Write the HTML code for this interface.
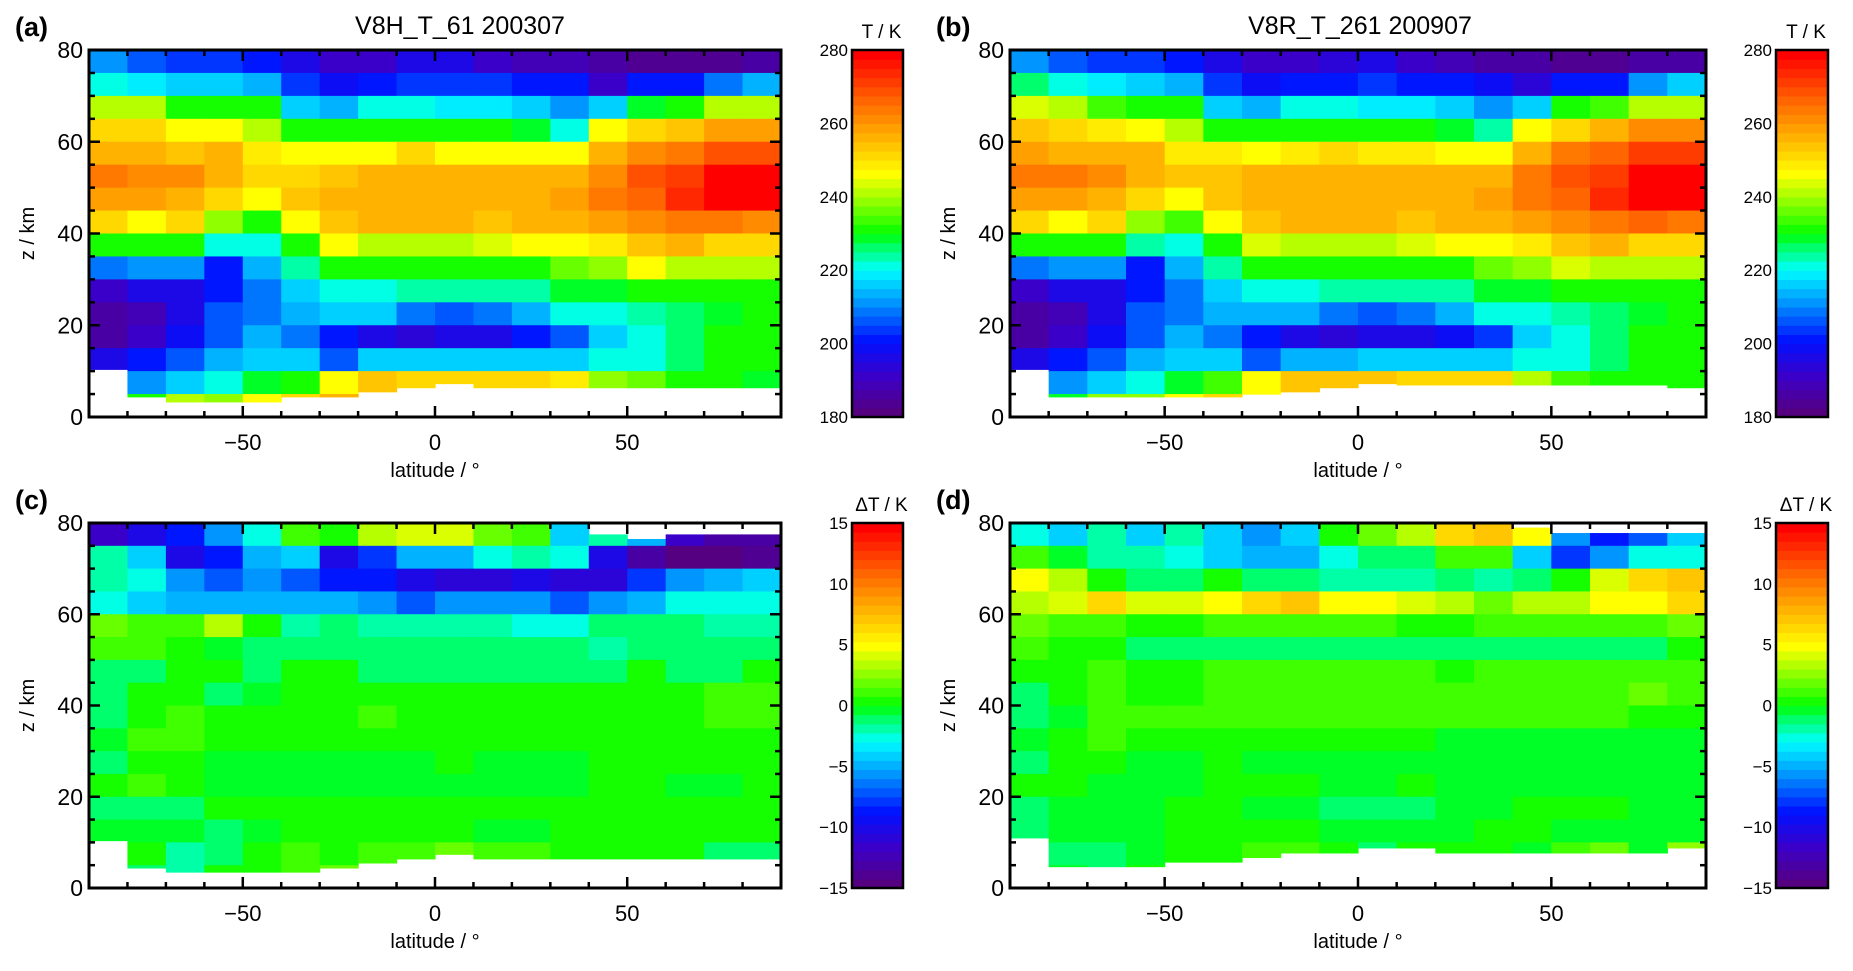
<!DOCTYPE html>
<html><head><meta charset="utf-8"><style>
html,body{margin:0;padding:0;background:#fff;}
svg{display:block;font-family:"Liberation Sans",sans-serif;}
</style></head><body>
<svg id="fig" width="1853" height="971" viewBox="0 0 1853 971"></svg>
<script>
// ---- data ----
const latitudes = [-85,-75,-65,-55,-45,-35,-25,-15,-5,5,15,25,35,45,55,65,75,85];
const altitudes = [77.5,72.5,67.5,62.5,57.5,52.5,47.5,42.5,37.5,32.5,27.5,22.5,17.5,12.5,7.5,2.5];
const xTicks = [-50,0,50];
const yTicks = [0,20,40,60,80];
const tempTicks = [180,200,220,240,260,280];
const diffTicks = [-15,-10,-5,0,5,10,15];

const tempA = [
[210,207,203,203,200,196,190,190,195,196,192,188,188,185,184,184,184,186],
[222,218,217,216,214,203,198,200,203,204,203,200,200,192,200,200,208,214],
[242,240,232,230,230,215,213,220,220,218,218,216,210,215,228,232,240,240],
[252,250,247,247,240,230,230,230,230,230,230,228,222,245,250,254,258,258],
[257,256,254,256,248,247,246,247,250,247,247,246,245,255,262,264,268,268],
[264,262,262,256,252,252,254,256,256,256,256,256,257,262,268,270,278,278],
[258,258,257,250,246,254,256,257,257,257,257,257,258,263,266,274,278,278],
[250,247,250,238,232,247,253,255,256,255,254,256,257,258,260,264,264,262],
[232,232,232,222,222,232,245,242,240,240,244,245,247,248,253,256,252,252],
[208,212,210,201,214,224,230,230,230,230,230,232,236,238,245,242,240,240],
[192,195,197,201,209,216,222,222,224,224,224,224,228,228,232,232,230,232],
[185,188,195,205,209,214,215,215,208,207,208,214,222,222,224,226,229,230],
[186,192,198,207,214,208,200,196,194,196,197,200,205,216,222,225,230,230],
[196,200,206,213,215,216,205,215,215,216,216,215,216,222,222,225,230,230],
[null,212,215,222,228,232,245,254,252,252,252,252,248,238,236,230,230,228],
[null,230,240,238,245,250,256,null,null,null,null,null,null,null,null,null,null,null]];
const bottomA = [10.4,4.4,3.3,3.3,3.3,4.4,4.4,5.5,6.4,7.3,6.4,6.4,6.4,6.4,6.4,6.4,6.4,6.4];
const topA = [80,80,80,80,80,80,80,80,80,80,80,80,80,80,80,80,80,80];

const tempB = [
[212,207,204,203,200,195,190,190,194,195,192,188,187,185,184,184,185,187],
[225,220,218,216,213,203,198,200,202,203,202,200,199,193,200,202,210,216],
[244,241,234,231,230,216,214,220,220,219,218,216,211,217,230,234,242,242],
[253,251,248,247,241,232,231,231,231,230,230,229,224,246,252,256,260,260],
[258,257,255,256,249,248,247,248,250,248,248,247,246,256,263,266,270,270],
[264,263,262,257,253,253,255,256,256,256,256,256,257,263,268,272,278,278],
[258,258,257,251,247,254,256,257,257,257,257,257,258,263,267,274,278,278],
[250,247,250,239,233,247,253,255,256,255,254,256,257,258,260,264,265,263],
[232,232,232,223,222,232,244,242,240,240,244,245,247,248,253,256,252,252],
[208,212,210,202,214,224,230,230,230,230,230,232,236,238,244,242,240,240],
[192,195,197,202,209,216,222,222,224,224,224,224,228,228,232,232,230,232],
[185,188,195,205,209,214,214,214,208,207,208,214,222,222,224,226,229,230],
[186,192,198,206,213,208,200,196,194,195,196,199,204,216,222,225,230,230],
[196,200,206,213,215,216,205,214,214,215,215,215,216,222,222,225,230,230],
[null,212,215,222,228,234,246,254,254,254,252,252,250,240,234,230,230,230],
[null,228,238,238,245,250,null,null,null,null,null,null,null,null,null,null,null,null]];
const bottomB = [10.4,4.4,4.4,4.4,4.4,4.4,5,5.5,6.4,7.3,7,7,7,7,7,7,7,6.4];
const topB = [80,80,80,80,80,80,80,80,80,80,80,80,80,80,80,80,80,80];

const diffC = [
[-12,-10,-9,-6,-3,1,0,3,4,4,2,1,-4,-2,-5,-12,-13,-13],
[-2,-4,-10,-9,-5,-4,-10,-8,-5,-5,-3,-2,-3,-10,-13,-15,-15,-14],
[-2,-3,-6,-7,-6,-7,-9,-9,-10,-11,-11,-10,-11,-11,-8,-6,-5,-4],
[-3,-4,-5,-5,-5,-5,-5,-6,-7,-6,-6,-6,-7,-6,-5,-3,-3,-3],
[2,1,1,3,0,-2,-1,-2,-2,-2,-2,-3,-3,-1,-1,-1,-2,-2],
[1,1,0,-0.5,-1,-1,-1,-1,-1,-1,-1.5,-1.5,-1.5,-2,-1.5,-1.5,-1.5,-1],
[-1.5,-1.5,0,0,-1,0,0,-1.5,-1.5,-1.5,-1.5,-1.5,-1.5,-1,0,-1,-1,0],
[-1,0,0,-1,-0.5,0.5,0,0.5,0.5,0,0,0,0,0,0.5,0.5,1,1],
[-1,0,1,0,0,0,0,1,0,0,0.5,0.5,0.5,0,0,0,1,1],
[-0.5,1,1,0,0,0,0,0,0,0,0,0,0,0,0,0,0,0],
[-1,0,0,-0.5,-0.5,-0.5,-0.5,-0.5,-0.5,0,-0.5,-0.5,-0.5,0,0,0,0,0],
[0.5,1,0,-0.5,-0.5,-0.5,-0.5,-0.5,-0.5,-0.5,-0.5,-0.5,-0.5,0,0,-0.5,-0.5,0],
[-1,-1,-1,0,0,0,0,0,0,0,0,0,0,0,0,0,0,0],
[-0.5,-0.5,-0.5,-1,-0.5,0,0,0,0,0,-0.5,-0.5,0,0,0,0,0,0],
[null,0,-2,-1,0.5,1,0,1,1,2,1,1,0.5,0.5,0.5,0,-1,-1.5],
[null,-1,-2,0,0,1,2,null,null,null,null,null,null,null,null,null,null,null]];
const bottomC = [10.4,4.4,3.5,3.5,3.5,3.5,4.4,5.5,6.4,7.4,6.4,6.4,6.4,6.4,6.4,6.4,6.4,6.4];
const topC = [80,80,80,80,80,80,80,80,80,80,80,80,80,77.5,76.5,77.5,77.5,77.5];

const diffD = [
[-3,-4,-2,-4,-2,-4,-6,-4,0,2,3,6,7,5,-6,-9,-7,-4],
[1,-0.5,-2,-2,-3,-4,-5,-5,-3,-1,-1,1,1,-4,-8,-6,-3,-3],
[5,3,0,-1,-1,0,-1,-1,-2,-2,-2,-1,-2,-1,0,4,6,7],
[3,4,6,4,4,5,6,7,5,5,4,3,2,3,3,5,5,6],
[2,1,1,0.5,0.5,1,1,1,1,1,0.5,0,1,1,1,1,1,2],
[1,0,0,-1,-1,-1,-1,-1,-1,-1,-1,-1,-1,-1,-1,-1,-1,0],
[0,0,1,0,0,1,1,1,1,1,1,0,1,1,1,1,1,1],
[-1,0,1,0,0,1,1,1,1,1,1,1,1,1,1,1,2,1],
[-1,-0.5,1,1,1,1,1,1,1,1,1,1,1,1,1,1,0,0],
[-0.5,0,1,0,0,0,0,0,0,0,0,-0.5,-0.5,-0.5,-0.5,-0.5,-0.5,-0.5],
[-1,0,0,-0.5,-0.5,0,-0.5,-0.5,-0.5,-0.5,-0.5,-0.5,-0.5,-0.5,-0.5,-0.5,-0.5,-0.5],
[0,0,-0.5,-0.5,-0.5,0,0,0,-0.5,-0.5,0,-0.5,-0.5,-0.5,-0.5,-0.5,-0.5,-0.5],
[-1.5,-0.5,-0.5,-0.5,0,0,-0.5,-0.5,-1,-1,-1,-0.5,-0.5,0,0,0,-0.5,-0.5],
[-1.5,-0.5,-0.5,-0.5,0,0,0,0,-0.5,-0.5,-0.5,-0.5,0,0,-0.5,-0.5,-0.5,-0.5],
[null,-1.5,-1.5,-0.5,0,0.5,1,1,0,-1.5,0.5,0.5,0,-0.5,1,2,-0.5,2.5],
[null,-0.5,-1.5,0.5,null,null,null,null,null,null,null,null,null,null,null,null,null,null]];
const bottomD = [11,4.7,4.7,4.7,5.7,5.7,6.7,7.7,7.7,8.8,8.8,7.7,7.7,7.7,7.7,7.7,7.7,8.8];
const topD = [80,80,80,80,80,80,80,80,80,80,80,80,80,79,77.8,77.8,77.8,77.8];

// ---- rendering ----
const NS = "http://www.w3.org/2000/svg";
const svg = document.getElementById('fig');
const stops = [[0,[85,0,128]],[0.1,[60,0,200]],[0.2,[0,16,255]],[0.3,[0,140,255]],[0.4,[0,255,255]],[0.43,[0,255,180]],[0.47,[0,255,90]],[0.5,[0,255,0]],[0.53,[50,255,0]],[0.6,[160,255,0]],[0.667,[255,255,0]],[0.75,[255,192,0]],[0.86,[255,110,0]],[1,[255,0,0]]];
function cmap(t){
  t = Math.max(0,Math.min(1,t));
  t = Math.min(39,Math.floor(t*40))/39;
  for(let i=1;i<stops.length;i++){
    if(t<=stops[i][0]){
      const a=stops[i-1],b=stops[i],f=(t-a[0])/(b[0]-a[0]);
      const c=a[1].map((v,k)=>Math.round(v+(b[1][k]-v)*f));
      return `rgb(${c[0]},${c[1]},${c[2]})`;
    }
  }
  return 'rgb(255,0,0)';
}
function mk(tag, attrs, parent){
  const e=document.createElementNS(NS,tag);
  for(const k in attrs) e.setAttribute(k,attrs[k]);
  (parent||svg).appendChild(e);
  return e;
}
function txt(s, attrs, parent){ const e=mk('text',attrs,parent); e.textContent=s; return e; }

function panel(o){
  const g = mk('g',{});
  
  
  const X = lat => o.x0 + (lat+90)/180*(o.x1-o.x0);
  const Y = z => o.y1 - z/80*(o.y1-o.y0);
  const cells = mk('g',{},g);
  
  
  for(let i=0;i<altitudes.length;i++){
    for(let j=0;j<latitudes.length;j++){
      const v = o.data[i][j];
      if(v===null) continue;
      let lo = Math.max(altitudes[i]-2.5, o.bottom[j]);
      let hi = Math.min(altitudes[i]+2.5, o.top[j]);
      if(hi<=lo) continue;
      const xa = X(latitudes[j]-5), xb = X(latitudes[j]+5);
      const r = mk('rect',{x:xa.toFixed(2),y:Y(hi).toFixed(2),width:(xb-xa+0.6).toFixed(2),height:(Y(lo)-Y(hi)+0.6).toFixed(2),fill:cmap((v-o.vmin)/(o.vmax-o.vmin))},cells);
      
      
    }
  }
  const fr = mk('rect',{x:o.x0,y:o.y0,width:o.x1-o.x0,height:o.y1-o.y0,fill:'none',stroke:'#000','stroke-width':3},g);
  
  
  const tk = mk('g',{stroke:'#000','stroke-width':2.5},g);
  for(let lat=-80;lat<=80;lat+=10){
    const L = (lat%50===0)?11:6, x=X(lat);
    mk('line',{x1:x,y1:o.y1,x2:x,y2:o.y1-L},tk);
    mk('line',{x1:x,y1:o.y0,x2:x,y2:o.y0+L},tk);
  }
  for(let z=5;z<80;z+=5){
    const L=(z%20===0)?11:6, y=Y(z);
    mk('line',{x1:o.x0,y1:y,x2:o.x0+L,y2:y},tk);
    mk('line',{x1:o.x1,y1:y,x2:o.x1-L,y2:y},tk);
  }
  xTicks.forEach(t=>{
    const e=txt(t<0?'\u2212'+Math.abs(t):String(t),{x:X(t),y:o.y1+33,'font-size':22,'text-anchor':'middle'},g);
    
    
  });
  yTicks.forEach(t=>{
    const e=txt(String(t),{x:o.x0-6,y:Y(t)+8,'font-size':23,'text-anchor':'end'},g);
    
    
  });
  const xt=txt('latitude / \u00B0',{x:(o.x0+o.x1)/2,y:o.y1+60,'font-size':20,'text-anchor':'middle'},g);
  
  
  const ym=(o.y0+o.y1)/2, yx=o.x0-55;
  const yt=txt('z / km',{x:yx,y:ym,'font-size':20,'text-anchor':'middle',transform:`rotate(-90 ${yx} ${ym})`},g);
  
  
  const pl=txt(o.label,{x:o.x0-74,y:o.y0-14,'font-size':27,'font-weight':'bold'},g);
  
  
  if(o.title){
    const ti=txt(o.title,{x:o.tx,y:o.y0-16,'font-size':25,'text-anchor':'middle'},g);
    
    
  }
  const cb = mk('g',{},g);
  
  
  const n=40, h=(o.y1-o.y0)/n;
  for(let k=0;k<n;k++){
    mk('rect',{x:o.cx0,y:(o.y1-(k+1)*h).toFixed(2),width:o.cx1-o.cx0,height:(h+0.6).toFixed(2),fill:cmap((k+0.5)/n)},cb);
  }
  mk('rect',{x:o.cx0,y:o.y0,width:o.cx1-o.cx0,height:o.y1-o.y0,fill:'none',stroke:'#000','stroke-width':2.5},cb);
  o.cticks.forEach(t=>{
    const y=o.y1-(t-o.vmin)/(o.vmax-o.vmin)*(o.y1-o.y0);
    const e=txt(t<0?'\u2212'+Math.abs(t):String(t),{x:o.cx0-4,y:y+6,'font-size':17,'text-anchor':'end'},cb);
    
    
  });
  const ct=txt(o.ctitle,{x:(o.cx0+o.cx1)/2+4,y:o.y0-12,'font-size':19,'text-anchor':'middle'},cb);
  
  
}

panel({name:'panel-a',label:'(a)',title:'V8H_T_61  200307',tx:460,x0:89,x1:781,y0:50,y1:417,data:tempA,bottom:bottomA,top:topA,vmin:180,vmax:280,cx0:852,cx1:903,cticks:tempTicks,ctitle:'T / K'});
panel({name:'panel-b',label:'(b)',title:'V8R_T_261  200907',tx:1360,x0:1010,x1:1706,y0:50,y1:417,data:tempB,bottom:bottomB,top:topB,vmin:180,vmax:280,cx0:1776,cx1:1828,cticks:tempTicks,ctitle:'T / K'});
panel({name:'panel-c',label:'(c)',title:'',x0:89,x1:781,y0:523,y1:888,data:diffC,bottom:bottomC,top:topC,vmin:-15,vmax:15,cx0:852,cx1:903,cticks:diffTicks,ctitle:'\u0394T / K'});
panel({name:'panel-d',label:'(d)',title:'',x0:1010,x1:1706,y0:523,y1:888,data:diffD,bottom:bottomD,top:topD,vmin:-15,vmax:15,cx0:1776,cx1:1828,cticks:diffTicks,ctitle:'\u0394T / K'});
</script>
</body></html>
